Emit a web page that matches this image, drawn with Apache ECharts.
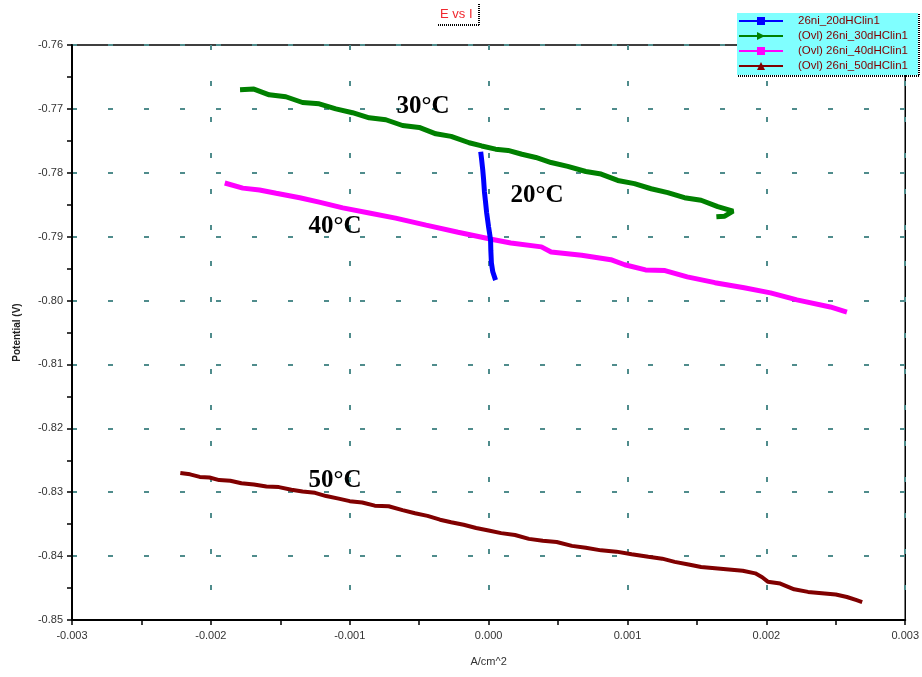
<!DOCTYPE html>
<html>
<head>
<meta charset="utf-8">
<title>E vs I</title>
<script src="https://cdn.jsdelivr.net/npm/echarts@6/dist/echarts.min.js"></script>
<style>
    html, body { margin: 0; padding: 0; background: #fff; }
    #chart { width: 922px; height: 677px; }
</style>
</head>
<body>
<div id="chart"></div>
<script>
// legend names
var seriesNames = ['26ni_20dHClin1', '(Ovl) 26ni_30dHClin1', '(Ovl) 26ni_40dHClin1', '(Ovl) 26ni_50dHClin1'];
var xTicks = [-0.003, -0.002, -0.001, 0.000, 0.001, 0.002, 0.003];
var yTicks = [-0.85, -0.84, -0.83, -0.82, -0.81, -0.80, -0.79, -0.78, -0.77, -0.76];

// 20°C  [A/cm^2, V]
var data20 = [
    [-0.000057, -0.7767], [-0.000050, -0.7780], [-0.000042, -0.7796], [-0.000036, -0.7811],
    [-0.000030, -0.7830], [-0.000022, -0.7846], [-0.000014, -0.7863], [0.000000, -0.7885],
    [0.000014, -0.7905], [0.000016, -0.7922], [0.000020, -0.7941], [0.000030, -0.7955],
    [0.000050, -0.7968]
];
// 30°C
var data30 = [
    [-0.00179, -0.7670], [-0.00169, -0.7669], [-0.00158, -0.7678], [-0.00146, -0.7681],
    [-0.00134, -0.7690], [-0.00122, -0.7692], [-0.00110, -0.7700], [-0.00098, -0.7706],
    [-0.00086, -0.7714], [-0.00074, -0.7717], [-0.00062, -0.7726], [-0.00050, -0.7729],
    [-0.00038, -0.7739], [-0.00027, -0.7743], [-0.00014, -0.7753], [-0.00005, -0.7758],
    [0.00005, -0.7763], [0.00014, -0.7765], [0.00024, -0.7771], [0.00034, -0.7776],
    [0.00045, -0.7784], [0.00057, -0.7790], [0.00070, -0.7798], [0.00081, -0.7802],
    [0.00093, -0.7812], [0.00105, -0.7817], [0.00117, -0.7825], [0.00129, -0.7831],
    [0.00141, -0.7839], [0.00153, -0.7843], [0.00165, -0.7853], [0.00176, -0.7860],
    [0.00170, -0.7868], [0.00164, -0.7869]
];
// 40°C
var data40 = [
    [-0.00190, -0.7816], [-0.00177, -0.7824], [-0.00165, -0.7827], [-0.00153, -0.7832],
    [-0.00136, -0.7839], [-0.00122, -0.7846], [-0.00105, -0.7855], [-0.00086, -0.7863],
    [-0.00067, -0.7871], [-0.00045, -0.7882], [-0.00022, -0.7893], [0.00002, -0.7904],
    [0.00016, -0.7910], [0.00038, -0.7916], [0.00045, -0.7924], [0.00067, -0.7929],
    [0.00088, -0.7936], [0.00098, -0.7944], [0.00113, -0.7952], [0.00127, -0.7953],
    [0.00143, -0.7963], [0.00163, -0.7972], [0.00184, -0.7980], [0.00203, -0.7988],
    [0.00222, -0.7999], [0.00246, -0.8010], [0.00258, -0.8018]
];
// 50°C
var data50 = [
    [-0.00222, -0.8270], [-0.00215, -0.8272], [-0.00208, -0.8276], [-0.00201, -0.8277],
    [-0.00194, -0.8281], [-0.00186, -0.8282], [-0.00178, -0.8286], [-0.00169, -0.8288],
    [-0.00160, -0.8291], [-0.00151, -0.8292], [-0.00142, -0.8296], [-0.00134, -0.8299],
    [-0.00125, -0.8301], [-0.00117, -0.8306], [-0.00108, -0.8310], [-0.00100, -0.8314],
    [-0.00091, -0.8316], [-0.00082, -0.8321], [-0.00072, -0.8322], [-0.00062, -0.8328],
    [-0.00053, -0.8333], [-0.00044, -0.8337], [-0.00035, -0.8343], [-0.00027, -0.8347],
    [-0.00018, -0.8351], [-0.00009, -0.8356], [0.00000, -0.8360], [0.00009, -0.8364],
    [0.00019, -0.8367], [0.00029, -0.8373], [0.00039, -0.8376], [0.00049, -0.8378],
    [0.00060, -0.8384], [0.00070, -0.8387], [0.00081, -0.8391], [0.00092, -0.8393],
    [0.00103, -0.8397], [0.00115, -0.8401], [0.00125, -0.8404], [0.00134, -0.8409],
    [0.00144, -0.8413], [0.00153, -0.8417], [0.00163, -0.8419], [0.00173, -0.8421],
    [0.00183, -0.8423], [0.00192, -0.8427], [0.00197, -0.8433], [0.00201, -0.8440],
    [0.00210, -0.8443], [0.00220, -0.8452], [0.00230, -0.8456], [0.00240, -0.8458],
    [0.00250, -0.8460], [0.00258, -0.8464], [0.00265, -0.8469], [0.00269, -0.8472]
];

var myChart = echarts.init(document.getElementById('chart'));

var gridDash = {
    show: true,
    lineStyle: { color: '#4f8c8c', width: 2, type: [5, 31] }
};
var tickLabel = { color: '#333', fontSize: 11, fontFamily: 'Liberation Sans' };

var makeLine = function (name, data, color, width, symbol, rotate, z) {
    return {
        name: name,
        type: 'line',
        data: data,
        showSymbol: false,
        symbol: symbol,
        symbolRotate: rotate,
        color: color,
        lineStyle: { color: color, width: width },
        z: z,
        animation: false
    };
};

var option = {
    backgroundColor: '#fff',
    animation: false,
    grid: {
        left: 72, right: 14, top: 45, bottom: 57,
        show: true, borderColor: '#000', borderWidth: 1.5
    },
    legend: {
        orient: 'vertical',
        left: 738, top: 15,
        padding: 0,
        itemGap: 3,
        itemWidth: 44,
        itemHeight: 10,
        z: 10,
        lineStyle: { width: 2 },
        textStyle: { color: '#800000', fontSize: 11.5, lineHeight: 11, fontFamily: 'Liberation Sans', padding: [0, 0, 0, 10] },
        data: seriesNames
    },
    xAxis: {
        type: 'value',
        min: xTicks[0], max: xTicks[xTicks.length - 1], interval: 0.001,
        name: 'A/cm^2',
        nameLocation: 'middle',
        nameGap: 36,
        nameTextStyle: { color: '#333', fontSize: 11, fontFamily: 'Liberation Sans' },
        axisLine: { onZero: false, lineStyle: { color: '#000', width: 2 } },
        axisTick: { length: 5, lineStyle: { color: '#000', width: 1.5 } },
        minorTick: { show: true, splitNumber: 2, length: 5, lineStyle: { color: '#000', width: 1.5 } },
        axisLabel: Object.assign({ margin: 10, formatter: function (v) { return v.toFixed(3); } }, tickLabel),
        splitLine: gridDash
    },
    yAxis: {
        type: 'value',
        min: yTicks[0], max: yTicks[yTicks.length - 1], interval: 0.01,
        name: 'Potential (V)',
        nameLocation: 'middle',
        nameGap: 50,
        nameTextStyle: { color: '#222', fontSize: 10, fontWeight: 'bold', fontFamily: 'Liberation Sans' },
        axisLine: { onZero: false, lineStyle: { color: '#000', width: 2 } },
        axisTick: { length: 5, lineStyle: { color: '#000', width: 1.5 } },
        minorTick: { show: true, splitNumber: 2, length: 5, lineStyle: { color: '#000', width: 1.5 } },
        axisLabel: Object.assign({ margin: 9, formatter: function (v) { return v.toFixed(2); } }, tickLabel),
        splitLine: gridDash
    },
    graphic: [
        // title box
        { type: 'text', left: 440, top: 8, z: 10, style: { text: 'E vs I', fill: '#f0282e', font: '13px "Liberation Sans"' } },
        { type: 'line', z: 10, shape: { x1: 438, y1: 25, x2: 480, y2: 25 }, style: { stroke: '#000', lineWidth: 2, lineDash: [1, 1] } },
        { type: 'line', z: 10, shape: { x1: 479, y1: 4, x2: 479, y2: 25 }, style: { stroke: '#000', lineWidth: 2, lineDash: [1, 1] } },
        // legend box
        { type: 'rect', z: 9, shape: { x: 737, y: 13, width: 181, height: 62 }, style: { fill: '#80ffff' } },
        { type: 'line', z: 9, shape: { x1: 738, y1: 76, x2: 920, y2: 76 }, style: { stroke: '#000', lineWidth: 2, lineDash: [1, 1] } },
        { type: 'line', z: 9, shape: { x1: 919, y1: 14, x2: 919, y2: 76 }, style: { stroke: '#000', lineWidth: 2, lineDash: [1, 1] } },
        // temperature labels
        { type: 'text', z: 10, x: 423, y: 107, style: { text: '30°C', fill: '#000', font: 'bold 25px "Liberation Serif"', textAlign: 'center', textVerticalAlign: 'middle' } },
        { type: 'text', z: 10, x: 537, y: 196, style: { text: '20°C', fill: '#000', font: 'bold 25px "Liberation Serif"', textAlign: 'center', textVerticalAlign: 'middle' } },
        { type: 'text', z: 10, x: 335, y: 227, style: { text: '40°C', fill: '#000', font: 'bold 25px "Liberation Serif"', textAlign: 'center', textVerticalAlign: 'middle' } },
        { type: 'text', z: 10, x: 335, y: 481, style: { text: '50°C', fill: '#000', font: 'bold 25px "Liberation Serif"', textAlign: 'center', textVerticalAlign: 'middle' } }
    ],
    series: [
        makeLine(seriesNames[0], data20, '#0000ff', 5, 'rect', 0, 5),
        makeLine(seriesNames[1], data30, '#008000', 5, 'triangle', -90, 3),
        makeLine(seriesNames[2], data40, '#ff00ff', 5, 'rect', 0, 3),
        makeLine(seriesNames[3], data50, '#800000', 4, 'triangle', 0, 3)
    ]
};
myChart.setOption(option);
</script>
</body>
</html>
